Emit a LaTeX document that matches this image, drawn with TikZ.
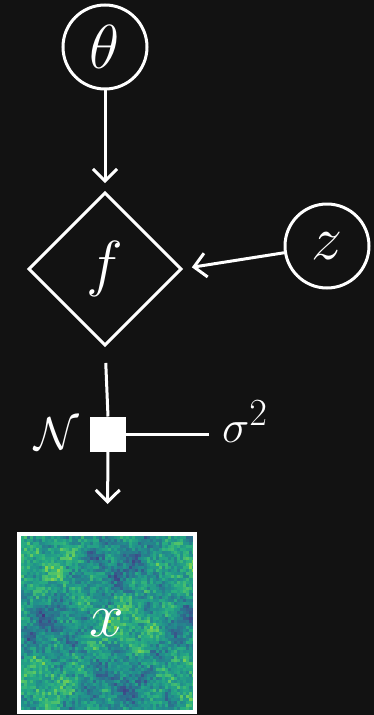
\documentclass[tikz,border=0pt]{standalone}
\usepackage{graphicx}
\usetikzlibrary{arrows.meta,shapes.geometric}
\definecolor{bg}{RGB}{18,18,18}
\definecolor{vir0}{RGB}{68,1,84}
\definecolor{vir1}{RGB}{71,44,122}
\definecolor{vir2}{RGB}{59,82,139}
\definecolor{vir3}{RGB}{44,114,142}
\definecolor{vir4}{RGB}{33,145,140}
\definecolor{vir5}{RGB}{40,174,128}
\definecolor{vir6}{RGB}{94,201,98}
\definecolor{vir7}{RGB}{173,220,48}
\definecolor{vir8}{RGB}{253,231,37}
\newcommand\BigTxt[1]{\scalebox{2.5}{\Huge$#1$}}
\newcommand\SmallTxt[1]{\scalebox{1.85}{\Huge$#1$}}
\begin{document}
\begin{tikzpicture}[x=1pt,y=-1pt, line width=3pt, white, outer sep=0pt,
  var/.style={circle, draw=white, minimum size=84pt, inner sep=0pt},
  arr/.style={-{Straight Barb[length=12pt,width=24pt]}}]
\fill[bg] (0,0) rectangle (374,715);
\useasboundingbox (0,0) rectangle (374,715);
% noise field (viridis)
\begin{scope}
\clip (21,536) rectangle (193,711);
\pgfmathsetseed{11}
\foreach \i in {0,...,57}{
 \foreach \j in {0,...,58}{
  \pgfmathsetmacro\v{max(0.01,min(0.99, 0.52 + 0.11*sin(7*\i+40)*sin(9*\j+10) + 0.05*sin(23*\i+17*\j) + 0.05*cos(29*\i-31*\j+60) + 0.10*rand + 0.08*rand))}
  \pgfmathtruncatemacro\seg{floor(\v*8)}
  \pgfmathtruncatemacro\segn{\seg+1}
  \pgfmathsetmacro\p{(\v*8-\seg)*100}
  \fill[vir\segn!\p!vir\seg] (21+3*\i,536+3*\j) rectangle ++(3.3,3.3);
 }}
\end{scope}
\node[var] (theta) at (105,47) {\BigTxt{\theta}};
\node[var] (z) at (327,246) {\BigTxt{z}};
\node[diamond, draw=white, minimum width=152pt, minimum height=152pt, inner sep=0pt] (f) at (105,269) {\BigTxt{f}};
\node[fill=white, minimum width=36pt, minimum height=35pt, inner sep=0pt] (sq) at (108,434) {};
\node[anchor=base east, inner sep=0pt] (N) at (79,449) {\SmallTxt{\mathcal{N}}};
\node[anchor=base west, inner sep=0pt] (sig) at (222,442) {\SmallTxt{\sigma^2}};
\node[draw=white, line width=4pt, minimum width=176pt, minimum height=178pt, inner sep=0pt] (img) at (107,623) {\BigTxt{x}};
\draw[arr, shorten >=10pt] (theta) -- (f);
\draw[arr, shorten >=11pt] (z) -- (f.east);
\draw[shorten <=18pt] (f.south) -- (sq.north);
\draw (sq.east) -- ([xshift=-13pt]sig.west |- sq.east);
\draw[arr, shorten >=30pt] (sq) -- (img);
\end{tikzpicture}
\end{document}
